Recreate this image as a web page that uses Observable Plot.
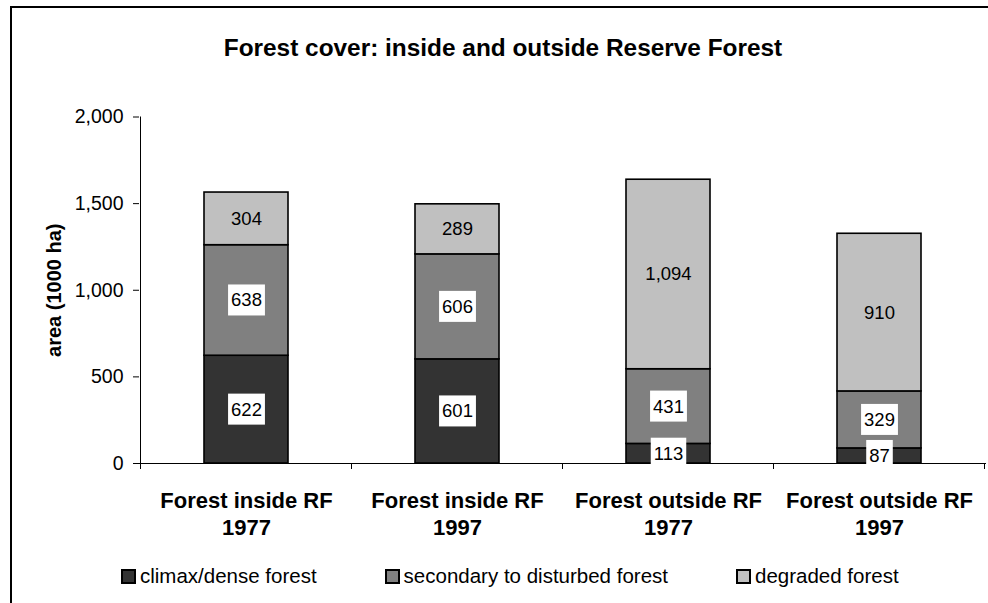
<!DOCTYPE html>
<html><head><meta charset="utf-8">
<script src="https://cdn.jsdelivr.net/npm/d3@7"></script>
<script src="https://cdn.jsdelivr.net/npm/@observablehq/plot@0.6"></script>
<style>
body{margin:0;background:#fff;font-family:"Liberation Sans",Arial,sans-serif;}
#wrap{position:relative;width:988px;height:603px;overflow:hidden;background:#fff;}
#frame{position:absolute;left:10px;top:6px;width:1000px;height:700px;border-left:2px solid #000;border-top:2px solid #000;}
#title{position:absolute;left:0;width:1006px;top:35.5px;text-align:center;font-weight:bold;font-size:24.4px;line-height:24.4px;color:#000;white-space:nowrap;}
#chart{position:absolute;left:0;top:0;}
#legend{position:absolute;left:122px;top:559.6px;}
.lg-swatch{margin-right:69px !important;}
.lg-swatch svg{margin-right:5px !important;}
.lg-swatch svg rect{stroke:#000;stroke-width:2px;}
</style></head>
<body>
<div id="wrap">
  <div id="frame"></div>
  <div id="title">Forest cover: inside and outside Reserve Forest</div>
  <div id="chart"></div>
  <div id="legend"></div>
</div>
<script>
const categories = ["Forest inside RF\n1977", "Forest inside RF\n1997", "Forest outside RF\n1977", "Forest outside RF\n1997"];
const seriesNames = ["climax/dense forest", "secondary to disturbed forest", "degraded forest"];
const climax = [622, 601, 113, 87];
const secondary = [638, 606, 431, 329];
const degraded = [304, 289, 1094, 910];
const seriesColors = ["#333333", "#808080", "#c0c0c0"];
const yTicks = [0, 500, 1000, 1500, 2000];
const yLabel = "area (1000 ha)";
const boxedSeries = ["climax/dense forest", "secondary to disturbed forest"];

const seriesValues = [climax, secondary, degraded];
const rows = [];
seriesNames.forEach((s, si) => categories.forEach((c, ci) => rows.push({category: c, series: s, value: seriesValues[si][ci]})));
const fmt = d3.format(",");
const FONT = '"Liberation Sans", Arial, sans-serif';
const labelSize = 18.5;

const measure = document.createElement("canvas").getContext("2d");
measure.font = `${labelSize}px ${FONT}`;

function boxedLabels(index, scales, values, dims, ctx, next) {
  const g = next(index, scales, values, dims, ctx);
  const texts = Array.from(g.querySelectorAll("text"));
  texts.forEach((t, j) => {
    const d = rows[index[j]];
    if (!d || !boxedSeries.includes(d.series)) return;
    const w = measure.measureText(t.textContent).width + 6;
    const h = 31;
    const r = document.createElementNS("http://www.w3.org/2000/svg", "rect");
    const tr = t.getAttribute("transform");
    if (tr) r.setAttribute("transform", tr);
    const tx = parseFloat(t.getAttribute("x"));
    r.setAttribute("x", (isFinite(tx) ? tx : 0) - w / 2);
    r.setAttribute("y", -h / 2 - 0.5);
    r.setAttribute("width", w);
    r.setAttribute("height", h);
    r.setAttribute("fill", "white");
    r.setAttribute("stroke", "none");
    t.parentNode.insertBefore(r, t);
  });
  return g;
}

function boundaryTicks(index, scales, values, dims) {
  const x = scales.x, y = scales.y;
  const bw = typeof x.bandwidth === "function" ? x.bandwidth() : (x.bandwidth || 0);
  const centers = categories.map(c => x(c) + bw / 2);
  const step = centers.length > 1 ? centers[1] - centers[0] : bw;
  const bounds = [centers[0] - step / 2, ...centers.map(c => c + step / 2)];
  const y0 = y(0), yTop = y(d3.max(yTicks));
  const g = d3.create("svg:g").attr("stroke", "black").attr("stroke-width", 1);
  g.selectAll("line.b").data(bounds).join("line")
    .attr("x1", d => d).attr("x2", d => d).attr("y1", y0).attr("y2", y0 + 6);
  g.append("line").attr("x1", bounds[0]).attr("x2", bounds[0]).attr("y1", yTop).attr("y2", y0);
  return g.node();
}

const chart = Plot.plot({
  width: 988,
  height: 540,
  marginLeft: 139,
  marginRight: 2,
  marginTop: 116.5,
  marginBottom: 77,
  style: {fontFamily: FONT, fontSize: "19.5px", color: "black", background: "transparent", overflow: "visible"},
  x: {domain: categories, paddingInner: 0.6, paddingOuter: 0.3, label: null},
  y: {domain: [0, 2000], label: null},
  color: {domain: seriesNames, range: seriesColors},
  marks: [
    Plot.axisY({ticks: yTicks, tickFormat: fmt, tickSize: 6, tickPadding: 10, label: null, fontSize: 19.5}),
    Plot.axisX({tickSize: 0, tickPadding: 25, fontSize: 22, fontWeight: "bold", lineHeight: 1.23, label: null}),
    Plot.text([yLabel], {frameAnchor: "left", text: d => d, rotate: -90, dx: -85, textAnchor: "middle", lineAnchor: "middle", fontWeight: "bold", fontSize: 20}),
    Plot.ruleY([0], {stroke: "black", strokeWidth: 1}),
    Plot.ruleY([0], {render: boundaryTicks}),
    Plot.barY(rows, {x: "category", y: "value", fill: "series", stroke: "black", strokeWidth: 1.6}),
    Plot.text(rows, Plot.stackY({x: "category", y: "value", z: "series", text: d => fmt(d.value), fontSize: labelSize, fill: "black", render: boxedLabels}))
  ]
});
document.getElementById("chart").appendChild(chart);

const legend = Plot.legend({
  color: {domain: seriesNames, range: seriesColors},
  legend: "swatches",
  swatchSize: 13,
  className: "lg",
  style: {fontSize: "20.5px", fontFamily: FONT, color: "black"}
});
document.getElementById("legend").appendChild(legend);
</script>
</body></html>
